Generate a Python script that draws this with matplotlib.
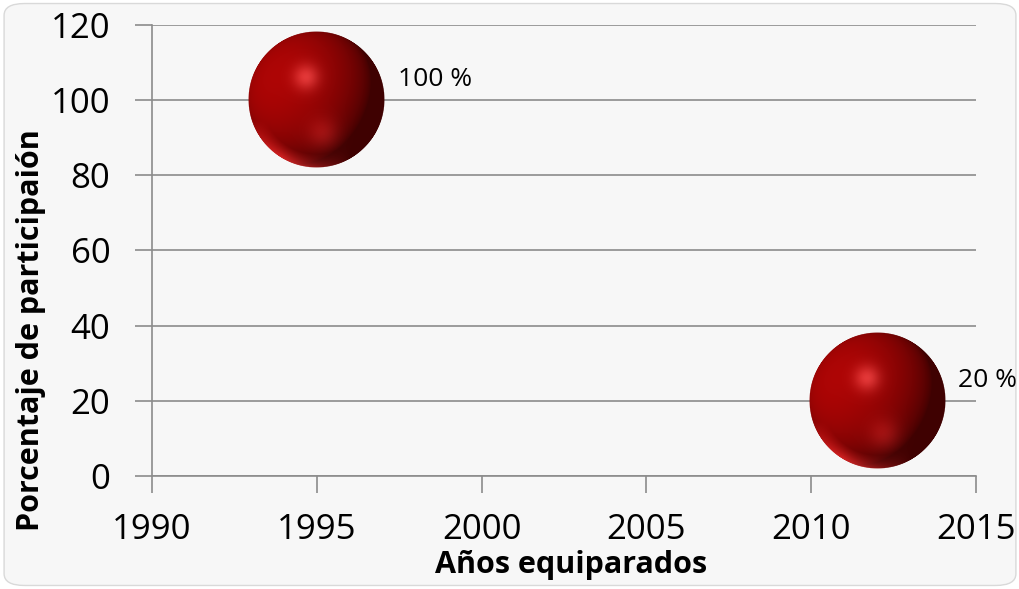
import numpy as np
import matplotlib.pyplot as plt
from matplotlib.offsetbox import OffsetImage, AnnotationBbox
from matplotlib.patches import FancyBboxPatch

# data
years = [1995, 2012]
participation = [100, 20]
bubble_sizes = [1, 1]
labels = ["100 %", "20 %"]

x_ticks = [1990, 1995, 2000, 2005, 2010, 2015]
y_ticks = [0, 20, 40, 60, 80, 100, 120]

FONT = "Open Sans"


def sphere_image(n=280):
    """Shaded red sphere as an RGBA array."""
    yy, xx = np.mgrid[-1:1:n * 1j, -1:1:n * 1j]
    rr = np.sqrt(xx ** 2 + yy ** 2)
    zz = np.sqrt(np.clip(1 - rr ** 2, 0, 1))
    # light from upper-left front
    light = np.array([-0.6, -0.35, 0.72])
    light = light / np.linalg.norm(light)
    diff = np.clip(xx * light[0] + yy * light[1] + zz * light[2], 0, 1)
    spec = np.exp(-((xx + 0.15) ** 2 + (yy + 0.33) ** 2) / 0.035)
    # soft reflection at the lower part
    refl = np.exp(-((xx - 0.1) ** 2 + (yy - 0.5) ** 2) / 0.05)
    rim = np.clip((rr - 0.8) / 0.2, 0, 1) * np.clip(yy - 0.3, 0, 1) * np.clip(0.5 - xx, 0, 1)
    base = np.array([0.68, 0.02, 0.02])
    dark = np.array([0.14, 0.0, 0.0])
    t = (0.2 + 0.8 * diff ** 0.75)[..., None]
    rgb = dark * (1 - t) + base * t
    rgb = rgb + spec[..., None] * np.array([0.25, 0.2, 0.2])
    rgb = rgb + refl[..., None] * np.array([0.16, 0.06, 0.06])
    rgb = rgb + rim[..., None] * np.array([0.9, 0.25, 0.25])
    rgb = np.clip(rgb, 0, 1)
    alpha = np.clip((1 - rr) * n / 2.5, 0, 1)
    return np.dstack([rgb, alpha])


fig = plt.figure(figsize=(10.2, 5.89), dpi=100)
fig.patch.set_facecolor("white")
bg = FancyBboxPatch((0.004, 0.006), 0.992, 0.988, boxstyle="round,pad=0,rounding_size=0.02",
                    transform=fig.transFigure, facecolor="#f7f7f7", edgecolor="#d9d9d9",
                    linewidth=1.0, zorder=-10)
fig.patches.append(bg)

ax = fig.add_axes([0.149, 0.192, 0.808, 0.766])
ax.set_facecolor("none")

ax.set_xlim(1990, 2015)
ax.set_ylim(0, 120)
ax.set_xticks(x_ticks)
ax.set_yticks(y_ticks)
ax.yaxis.grid(True, color="#8c8c8c", linewidth=1.2)
ax.set_axisbelow(True)
for side in ["top", "right"]:
    ax.spines[side].set_visible(False)
for side in ["left", "bottom"]:
    ax.spines[side].set_color("#8c8c8c")
    ax.spines[side].set_linewidth(1.2)
ax.tick_params(axis="both", direction="out", length=12, width=1.2, color="#8c8c8c",
               labelsize=25)
ax.tick_params(axis="x", pad=15)
ax.tick_params(axis="y", pad=18)
for lbl in ax.get_xticklabels() + ax.get_yticklabels():
    lbl.set_fontfamily(FONT)

img = sphere_image()
for x, y, s, text in zip(years, participation, bubble_sizes, labels):
    ab = AnnotationBbox(OffsetImage(img, zoom=0.352 * s), (x, y), frameon=False, zorder=3)
    ax.add_artist(ab)
    ax.annotate(text, (x, y), xytext=(81, 20), textcoords="offset pixels",
                fontsize=19, fontfamily=FONT, va="center", ha="left")

ax.set_xlabel("Años equiparados", fontsize=22, fontweight="bold", fontfamily=FONT)
ax.xaxis.set_label_coords(0.509, -0.165)
ax.set_ylabel("Porcentaje de participaión", fontsize=22, fontweight="bold", fontfamily=FONT)
ax.yaxis.set_label_coords(-0.128, 0.324)

fig.savefig("out.png", dpi=100, facecolor=fig.get_facecolor())
